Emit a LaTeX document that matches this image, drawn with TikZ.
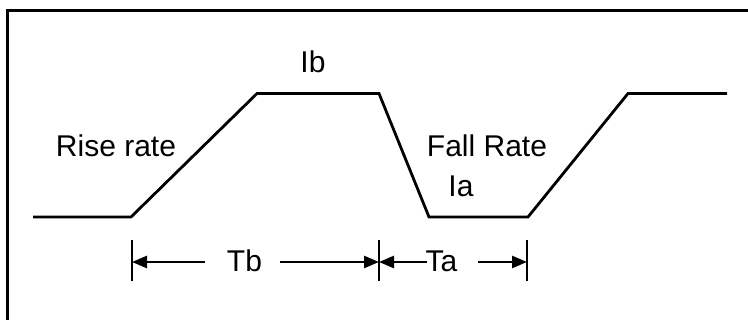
\documentclass[tikz,border=0pt]{standalone}
\usepackage{fontspec}
\setmainfont{Liberation Sans}
\usetikzlibrary{arrows.meta}
\begin{document}
\begin{tikzpicture}[x=1pt,y=-1pt,
  wave/.style={line width=2.8pt,line join=miter},
  frameline/.style={line width=3pt},
  tick/.style={line width=2.6pt},
  dimarrow/.style={line width=2.6pt,-{Triangle[length=15pt,width=12pt]}},
  lbl/.style={inner sep=0pt,anchor=base,font=\fontsize{30}{32}\selectfont}]
\clip (0,0) rectangle (748,320);
\fill[white] (0,0) rectangle (748,320);
% frame
\draw[frameline] (7.5,340) -- (7.5,10.5) -- (770,10.5);
% waveform
\coordinate (w0) at (33,217);
\coordinate (w1) at (131,217);
\coordinate (w2) at (257,93.5);
\coordinate (w3) at (379,93.5);
\coordinate (w4) at (429,217);
\coordinate (w5) at (528,217);
\coordinate (w6) at (628,93.5);
\coordinate (w7) at (727,93.5);
\draw[wave] (w0) -- (w1) -- (w2) -- (w3) -- (w4) -- (w5) -- (w6) -- (w7);
% labels
\node[lbl] (ib) at (313,73) {Ib};
\node[lbl] (rise) at (116,157) {Rise rate};
\node[lbl] (fall) at (487,157) {Fall Rate};
\node[lbl] (ia) at (461,197) {Ia};
% dimension ticks
\coordinate (t1a) at (132,240); \coordinate (t1b) at (132,281);
\coordinate (t2a) at (379,240); \coordinate (t2b) at (379,281);
\coordinate (t3a) at (527,240); \coordinate (t3b) at (527,281);
\draw[tick] (t1a) -- (t1b);
\draw[tick] (t2a) -- (t2b);
\draw[tick] (t3a) -- (t3b);
\coordinate (d1) at (132,262);
\coordinate (d2) at (379,262);
\coordinate (d3) at (527,262);
\node[lbl] (tb) at (244.5,272) {Tb};
\node[lbl] (ta) at (441.5,272) {Ta};
\coordinate (tbL) at (205,262); \coordinate (tbR) at (280,262);
\coordinate (taL) at (427,262); \coordinate (taR) at (478,262);
\draw[dimarrow] (tbL) -- (d1);
\draw[dimarrow] (tbR) -- (d2);
\draw[dimarrow] (taL) -- (d2);
\draw[dimarrow] (taR) -- (d3);
\end{tikzpicture}
\end{document}
